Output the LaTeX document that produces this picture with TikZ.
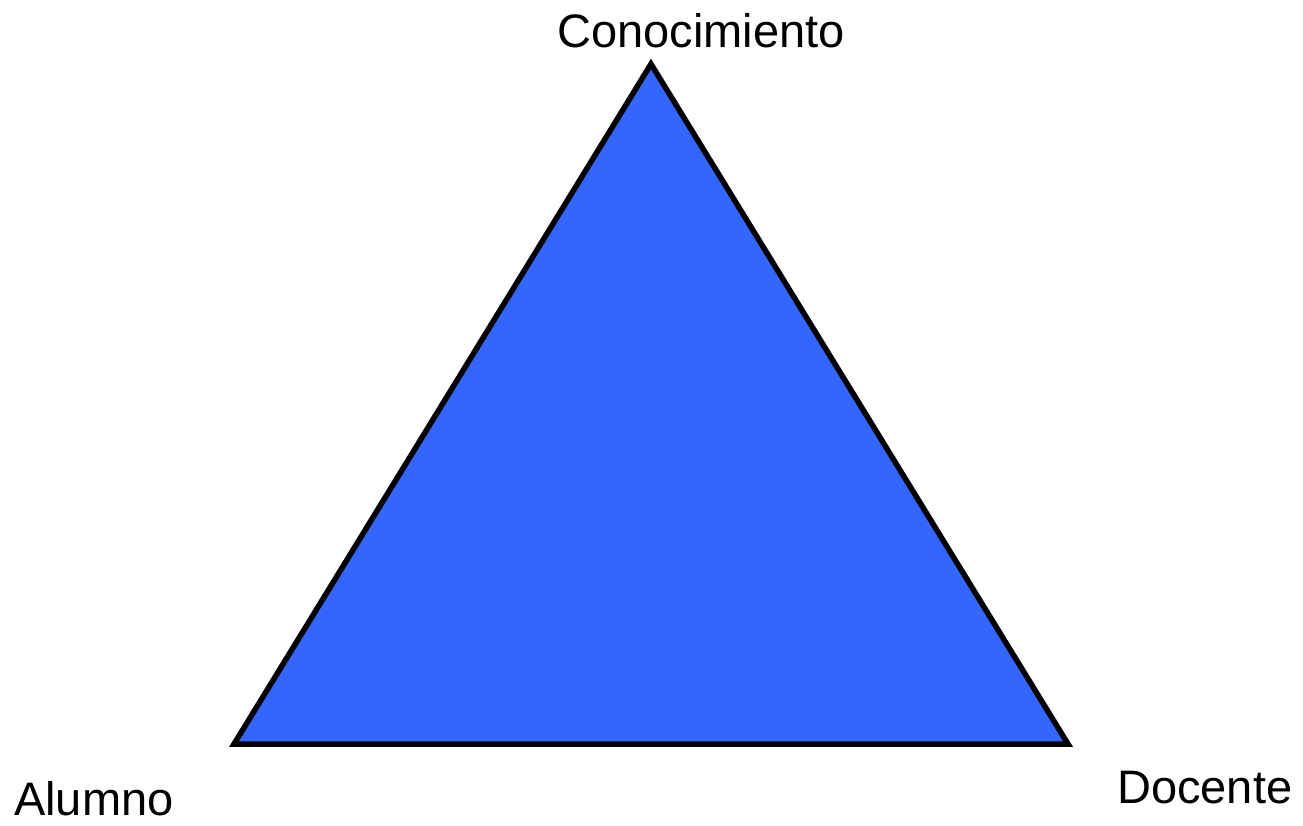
\documentclass[tikz,border=0pt]{standalone}
\usepackage{fontspec}
\setmainfont{Liberation Sans}
\definecolor{triblue}{HTML}{3366FF}
\begin{document}
\begin{tikzpicture}[x=1pt,y=-1pt,
  lbl/.style={font=\fontsize{47}{51}\selectfont, inner sep=0pt, anchor=base west}]
\useasboundingbox (0,0) rectangle (1303,825);
\coordinate (top) at (651,64);
\coordinate (bl) at (234,744);
\coordinate (br) at (1068,744);
\filldraw[fill=triblue, draw=black, line width=5.5pt, line join=miter] (top) -- (bl) -- (br) -- cycle;
\node[lbl] (con) at (557,47) {Conocimiento};
\node[lbl] (alu) at (14,815) {Alumno};
\node[lbl] (doc) at (1117,803) {Docente};
\end{tikzpicture}
\end{document}
